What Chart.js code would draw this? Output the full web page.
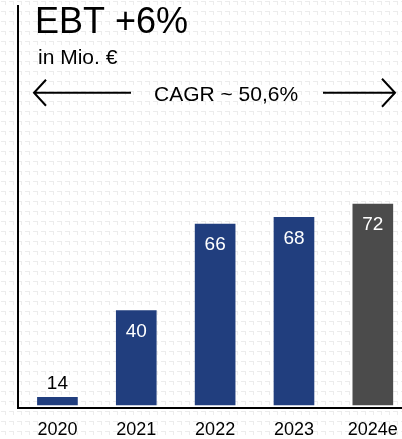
<!DOCTYPE html>
<html lang="de">
<head>
<meta charset="UTF-8">
<title>EBT</title>
<script src="https://cdn.jsdelivr.net/npm/chart.js"></script>
<style>
    body { margin: 0; background: #fff; }
    .wrap { width: 402px; height: 439px; position: relative; }
</style>
</head>
<body>
<div class="wrap"><canvas id="ebtChart"></canvas></div>
<script>
    const years = ['2020', '2021', '2022', '2023', '2024e'];
    const ebt = [14, 40, 66, 68, 72];
    const barColors = ['#213e7e', '#213e7e', '#213e7e', '#213e7e', '#4b4b4b'];
    const titleText = 'EBT +6%';
    const unitText = 'in Mio. €';
    const cagrText = 'CAGR ~ 50,6%';

    const FONT = '"Liberation Sans", Arial, sans-serif';

    // faint dotted paper pattern behind the chart
    const paper = {
        id: 'paper',
        beforeDraw(chart) {
            const ctx = chart.ctx;
            const p = document.createElement('canvas');
            p.width = 8; p.height = 10;
            const pc = p.getContext('2d');
            pc.fillStyle = '#ececec';
            pc.fillRect(1, 1, 5, 1);
            pc.fillRect(5, 1, 1, 4);
            ctx.save();
            ctx.fillStyle = '#fff';
            ctx.fillRect(0, 0, chart.width, chart.height);
            ctx.fillStyle = ctx.createPattern(p, 'repeat');
            ctx.fillRect(0, 0, chart.width, chart.height);
            ctx.restore();
        }
    };

    const valueLabels = {
        id: 'valueLabels',
        afterDatasetsDraw(chart) {
            const ctx = chart.ctx;
            const meta = chart.getDatasetMeta(0);
            ctx.save();
            ctx.font = '19px ' + FONT;
            ctx.textAlign = 'center';
            ctx.textBaseline = 'middle';
            meta.data.forEach((bar, i) => {
                const h = bar.base - bar.y;
                if (h > 30) {
                    ctx.fillStyle = '#fff';
                    ctx.fillText(ebt[i], bar.x, bar.y + 21);
                } else {
                    ctx.fillStyle = '#000';
                    ctx.fillText(ebt[i], bar.x, bar.y - 14);
                }
            });
            ctx.restore();
        }
    };

    function arrow(ctx, x1, x2, y, head) {
        const dir = Math.sign(x2 - x1);
        ctx.beginPath();
        ctx.moveTo(x1, y);
        ctx.lineTo(x2, y);
        ctx.moveTo(x2 - dir * head, y - head - 1);
        ctx.lineTo(x2, y);
        ctx.lineTo(x2 - dir * head, y + head + 1);
        ctx.stroke();
    }

    const headings = {
        id: 'headings',
        afterDraw(chart) {
            const ctx = chart.ctx;
            ctx.save();
            ctx.fillStyle = '#000';
            ctx.textBaseline = 'alphabetic';
            ctx.textAlign = 'left';
            ctx.font = '36px ' + FONT;
            ctx.fillText(titleText, 35, 33);
            ctx.font = '21px ' + FONT;
            ctx.fillText(unitText, 38, 64);
            ctx.fillText(cagrText, 154, 100.5);
            ctx.strokeStyle = '#000';
            ctx.lineWidth = 2;
            arrow(ctx, 131, 34, 92.7, 12);
            arrow(ctx, 323, 395, 92.7, 13);
            ctx.restore();
        }
    };

    new Chart(document.getElementById('ebtChart'), {
        type: 'bar',
        data: {
            datasets: [{
                data: ebt.map((v, i) => ({ x: i, y: v })),
                backgroundColor: barColors,
                barThickness: 40,
                base: 11.7
            }]
        },
        options: {
            responsive: true,
            maintainAspectRatio: false,
            animation: false,
            layout: { padding: { left: 18, top: 6, right: 0, bottom: 0 } },
            plugins: { legend: { display: false }, tooltip: { enabled: false } },
            scales: {
                x: {
                    type: 'linear',
                    offset: false,
                    min: -0.5,
                    max: 4.37,
                    afterBuildTicks: s => { s.ticks = years.map((_, i) => ({ value: i })); },
                    afterFit: s => { s.height = 31; s.paddingLeft = 0; s.paddingRight = 0; },
                    grid: { display: false, drawTicks: false },
                    border: { display: true, color: '#000', width: 2 },
                    ticks: {
                        padding: 13,
                        color: '#000',
                        font: { family: FONT, size: 18, lineHeight: 1 },
                        callback: v => years[v],
                        maxRotation: 0,
                        autoSkip: false
                    }
                },
                y: {
                    min: 10.8,
                    max: 131.4,
                    grid: { display: false, drawTicks: false },
                    border: { display: true, color: '#000', width: 2 },
                    ticks: { display: false }
                }
            }
        },
        plugins: [paper, valueLabels, headings]
    });
</script>
</body>
</html>
